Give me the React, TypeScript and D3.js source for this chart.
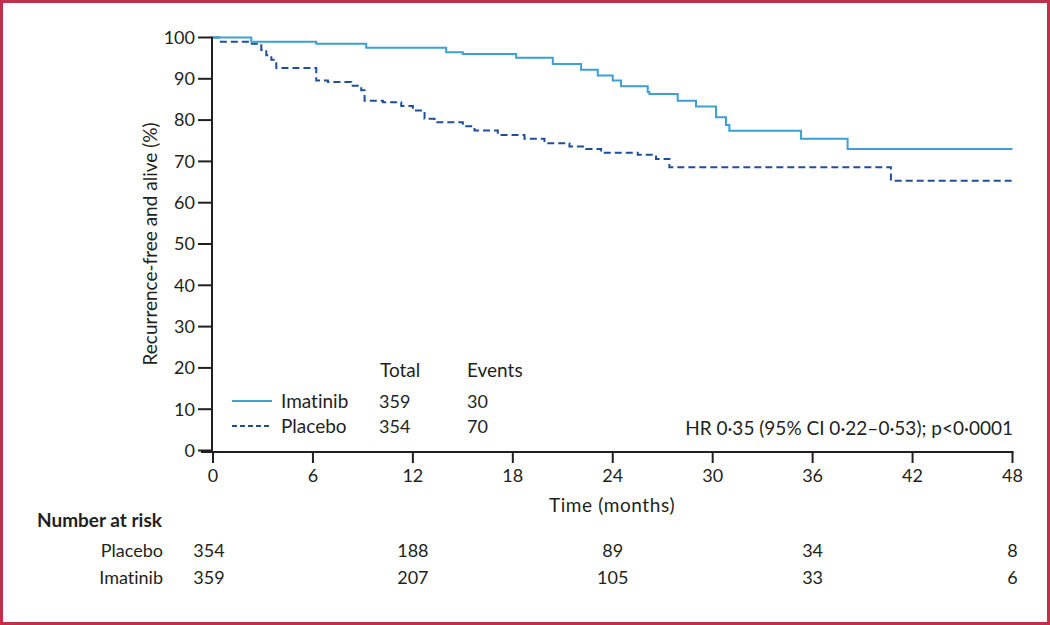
import React from "react";
import * as d3 from "d3";

const imatinibTimes = [0, 2.3, 6.2, 9.2, 14.0, 15.0, 18.2, 20.4, 22.1, 23.1, 24.0, 24.5, 26.1, 26.2, 27.9, 29.0, 30.2, 30.8, 31.0, 35.3, 38.1, 48];
const imatinibSurv = [100, 99.0, 98.5, 97.5, 96.4, 96.0, 95.1, 93.6, 92.2, 90.8, 89.6, 88.2, 86.8, 86.3, 84.7, 83.3, 80.7, 78.8, 77.4, 75.5, 73.0, 73.0];

const placeboTimes = [0, 0.4, 2.2, 2.9, 3.2, 3.5, 3.8, 6.2, 6.9, 8.3, 8.9, 9.1, 10.2, 11.3, 12.0, 12.7, 13.3, 15.0, 15.7, 17.1, 18.7, 19.9, 21.4, 22.4, 23.3, 25.5, 26.6, 27.4, 40.7, 48];
const placeboSurv = [100, 99.0, 98.5, 97.0, 95.7, 94.6, 92.6, 89.6, 89.2, 88.3, 87.2, 84.7, 84.3, 83.4, 82.3, 80.3, 79.5, 78.5, 77.5, 76.4, 75.5, 74.4, 73.6, 73.0, 72.1, 71.6, 70.6, 68.6, 65.3, 65.3];

const xTicks = [0, 6, 12, 18, 24, 30, 36, 42, 48];
const yTicks = [0, 10, 20, 30, 40, 50, 60, 70, 80, 90, 100];

const riskTimes = [0, 12, 24, 36, 48];
const riskPlacebo = [354, 188, 89, 34, 8];
const riskImatinib = [359, 207, 105, 33, 6];

const legendNames = ["Imatinib", "Placebo"];
const legendTotals = [359, 354];
const legendEvents = [30, 70];

const hrText = "HR 0·35 (95% CI 0·22–0·53); p<0·0001";

const FONT = "Lato, 'Open Sans', sans-serif";
const TXT = "#231f20";
const C_IMA = "#3d9fd2";
const C_PLA = "#1d4f9c";

export default function App() {
  const x = d3.scaleLinear().domain([0, 48]).range([213, 1012.5]);
  const y = d3.scaleLinear().domain([0, 100]).range([450.5, 37.5]);
  const line = d3
    .line<[number, number]>()
    .x((d) => x(d[0]))
    .y((d) => y(d[1]))
    .curve(d3.curveStepAfter);
  const imaPts = imatinibTimes.map((t, i) => [t, imatinibSurv[i]] as [number, number]);
  const plaPts = placeboTimes.map((t, i) => [t, placeboSurv[i]] as [number, number]);
  const axisY = 452;

  return (
    <svg
      width={1050}
      height={625}
      style={{ position: "absolute", left: 0, top: 0, background: "#fff", fontVariantLigatures: "none" }}
      fontFamily={FONT}
    >
      <rect x={1.5} y={1.5} width={1047} height={622} fill="#fff" stroke="#c1304a" strokeWidth={3} />

      {/* y axis */}
      <line x1={212} x2={212} y1={y(100) - 1} y2={axisY} stroke={TXT} strokeWidth={2} />
      {yTicks.map((t) => (
        <g key={"y" + t}>
          <line x1={198} x2={212} y1={y(t)} y2={y(t)} stroke={TXT} strokeWidth={2} />
          <text x={195} y={y(t)} dy="0.35em" textAnchor="end" fontSize={18} fill={TXT}>
            {t}
          </text>
        </g>
      ))}
      <text
        transform={`translate(157,244) rotate(-90)`}
        textAnchor="middle"
        fontSize={19}
        fill={TXT}
      >
        Recurrence-free and alive (%)
      </text>

      {/* x axis */}
      <line x1={201} x2={x(48) + 1} y1={axisY} y2={axisY} stroke={TXT} strokeWidth={2} />
      {xTicks.map((t) => (
        <g key={"x" + t}>
          <line x1={x(t)} x2={x(t)} y1={axisY} y2={axisY + 11} stroke={TXT} strokeWidth={2} />
          <text x={x(t)} y={482} textAnchor="middle" fontSize={18} fill={TXT}>
            {t}
          </text>
        </g>
      ))}
      <text x={612} y={512} textAnchor="middle" fontSize={19} letterSpacing={0.6} fill={TXT}>
        Time (months)
      </text>

      {/* curves */}
      <path d={line(plaPts) || ""} fill="none" stroke={C_PLA} strokeWidth={2} strokeDasharray="7,4" />
      <path d={line(imaPts) || ""} fill="none" stroke={C_IMA} strokeWidth={2} />

      {/* legend */}
      <text x={380} y={377} fontSize={19} fill={TXT}>Total</text>
      <text x={467} y={377} fontSize={19} fill={TXT}>Events</text>
      {legendNames.map((n, i) => {
        const yy = 408 + i * 25;
        return (
          <g key={n}>
            <line
              x1={232}
              x2={272}
              y1={yy - 7}
              y2={yy - 7}
              stroke={i === 0 ? C_IMA : C_PLA}
              strokeWidth={2}
              strokeDasharray={i === 0 ? undefined : "5,3"}
            />
            <text x={281} y={yy} fontSize={19} fill={TXT}>{n}</text>
            <text x={379} y={yy} fontSize={18} fill={TXT}>{legendTotals[i]}</text>
            <text x={467} y={yy} fontSize={18} fill={TXT}>{legendEvents[i]}</text>
          </g>
        );
      })}
      <text x={1013} y={435} textAnchor="end" fontSize={19} fill={TXT}>
        {hrText}
      </text>

      {/* number at risk */}
      <text x={37} y={527} fontSize={19} fontWeight="bold" fill={TXT}>
        Number at risk
      </text>
      <text x={163} y={557} textAnchor="end" fontSize={18} fill={TXT}>Placebo</text>
      <text x={163} y={584} textAnchor="end" fontSize={18} fill={TXT}>Imatinib</text>
      {riskTimes.map((t, i) => (
        <g key={"r" + t}>
          <text x={x(t) - (i === 0 ? 4 : 0)} y={557} textAnchor="middle" fontSize={18} fill={TXT}>
            {riskPlacebo[i]}
          </text>
          <text x={x(t) - (i === 0 ? 4 : 0)} y={584} textAnchor="middle" fontSize={18} fill={TXT}>
            {riskImatinib[i]}
          </text>
        </g>
      ))}
    </svg>
  );
}
